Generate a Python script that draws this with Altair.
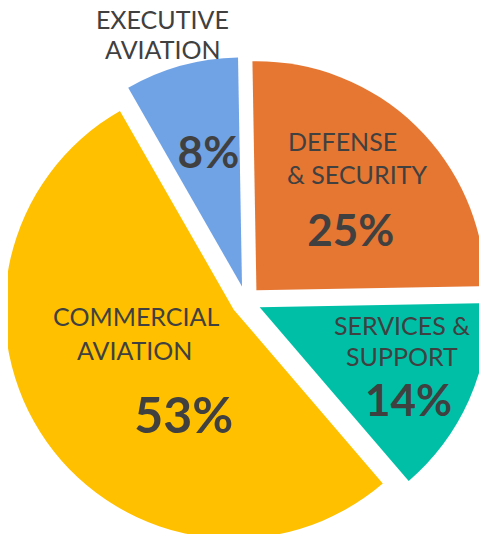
import math
import altair as alt
import pandas as pd

# ---- data ----
categories = ["Defense & Security", "Services & Support", "Commercial Aviation", "Executive Aviation"]
shares = [25, 14, 53, 8]
name_line1 = ["DEFENSE", "SERVICES &", "COMMERCIAL", "EXECUTIVE"]
name_line2 = ["& SECURITY", "SUPPORT", "AVIATION", "AVIATION"]
colors = ["#E57733", "#00BFA7", "#FFC000", "#70A3E6"]

# ---- layout ----
W, H = 471, 526
CX, CY = 238, 293          # pie centre inside the view
R = 229                    # outer radius
EXPLODE = 15               # offset of each slice along its mid angle
ROT = math.radians(-1)     # start angle of first slice
FONT = "Lato"
TXT = "#404040"

# label anchors: (radius of anchor, [(kind, dx, dy, align)])
LABEL_LAYOUT = {
    "Defense & Security": [(155, "l1", -65.6, -38.4, "left"),
                           (155, "l2", -66.6, -5.4, "left"),
                           (155, "pct", -3.0, 56.6, "center")],
    "Services & Support": [(169, "l1", 1.8, -35.4, "center"),
                           (169, "l2", 1.8, -4.4, "center"),
                           (169, "pct", 8.3, 45.6, "center")],
    "Commercial Aviation": [(117, "l1", -14.2, -42.8, "center"),
                            (117, "l2", -15.7, -8.8, "center"),
                            (117, "pct", 33.3, 64.2, "center")],
    "Executive Aviation": [(272, "l1", -11.4, -10.0, "center"),
                           (272, "l2", -10.9, 20.0, "center"),
                           (154, "pct", 3.3, 15.7, "center")],
}

df = pd.DataFrame({"category": categories, "share": shares,
                   "l1": name_line1, "l2": name_line2})
total = df["share"].sum()
df["end"] = df["share"].cumsum() / total * 2 * math.pi + ROT
df["start"] = df["end"] - df["share"] / total * 2 * math.pi
df["mid"] = (df["start"] + df["end"]) / 2

arcs = alt.Chart(df).transform_calculate(
    px=f"{CX} + {EXPLODE} * sin(datum.mid)",
    py=f"{CY} - {EXPLODE} * cos(datum.mid)",
).mark_arc(outerRadius=R).encode(
    x=alt.X("px:Q", scale=None),
    y=alt.Y("py:Q", scale=None),
    theta=alt.Theta("start:Q", scale=None),
    theta2="end:Q",
    color=alt.Color("category:N", scale=alt.Scale(domain=categories, range=colors), legend=None),
)

rows = []
for _, r in df.iterrows():
    for rad, kind, dx, dy, align in LABEL_LAYOUT[r["category"]]:
        ax = CX + rad * math.sin(r["mid"])
        ay = CY - rad * math.cos(r["mid"])
        text = f"{r['share']}%" if kind == "pct" else r[kind]
        rows.append({"category": r["category"], "text": text, "kind": kind,
                     "tx": ax + dx, "ty": ay + dy, "align": align})
lab = pd.DataFrame(rows)

def text_layer(filt, align, size, weight):
    return alt.Chart(lab).transform_filter(filt).mark_text(
        font=FONT, fontSize=size, fontWeight=weight, color=TXT,
        align=align, baseline="alphabetic",
    ).encode(
        x=alt.X("tx:Q", scale=None),
        y=alt.Y("ty:Q", scale=None),
        text="text:N",
    )

names_left = text_layer("datum.kind != 'pct' && datum.align == 'left'", "left", 25, "normal")
names_center = text_layer("datum.kind != 'pct' && datum.align == 'center'", "center", 25, "normal")
pct_small = text_layer("datum.kind == 'pct' && datum.category != 'Commercial Aviation'", "center", 44, "bold")
pct_big = text_layer("datum.kind == 'pct' && datum.category == 'Commercial Aviation'", "center", 50, "bold")

chart = alt.layer(arcs, names_left, names_center, pct_small, pct_big).properties(
    width=W, height=H, autosize=alt.AutoSizeParams(type="none"), padding=0,
).configure_view(stroke=None)

chart.save("out.html", embed_options={"renderer": "svg", "actions": False})
